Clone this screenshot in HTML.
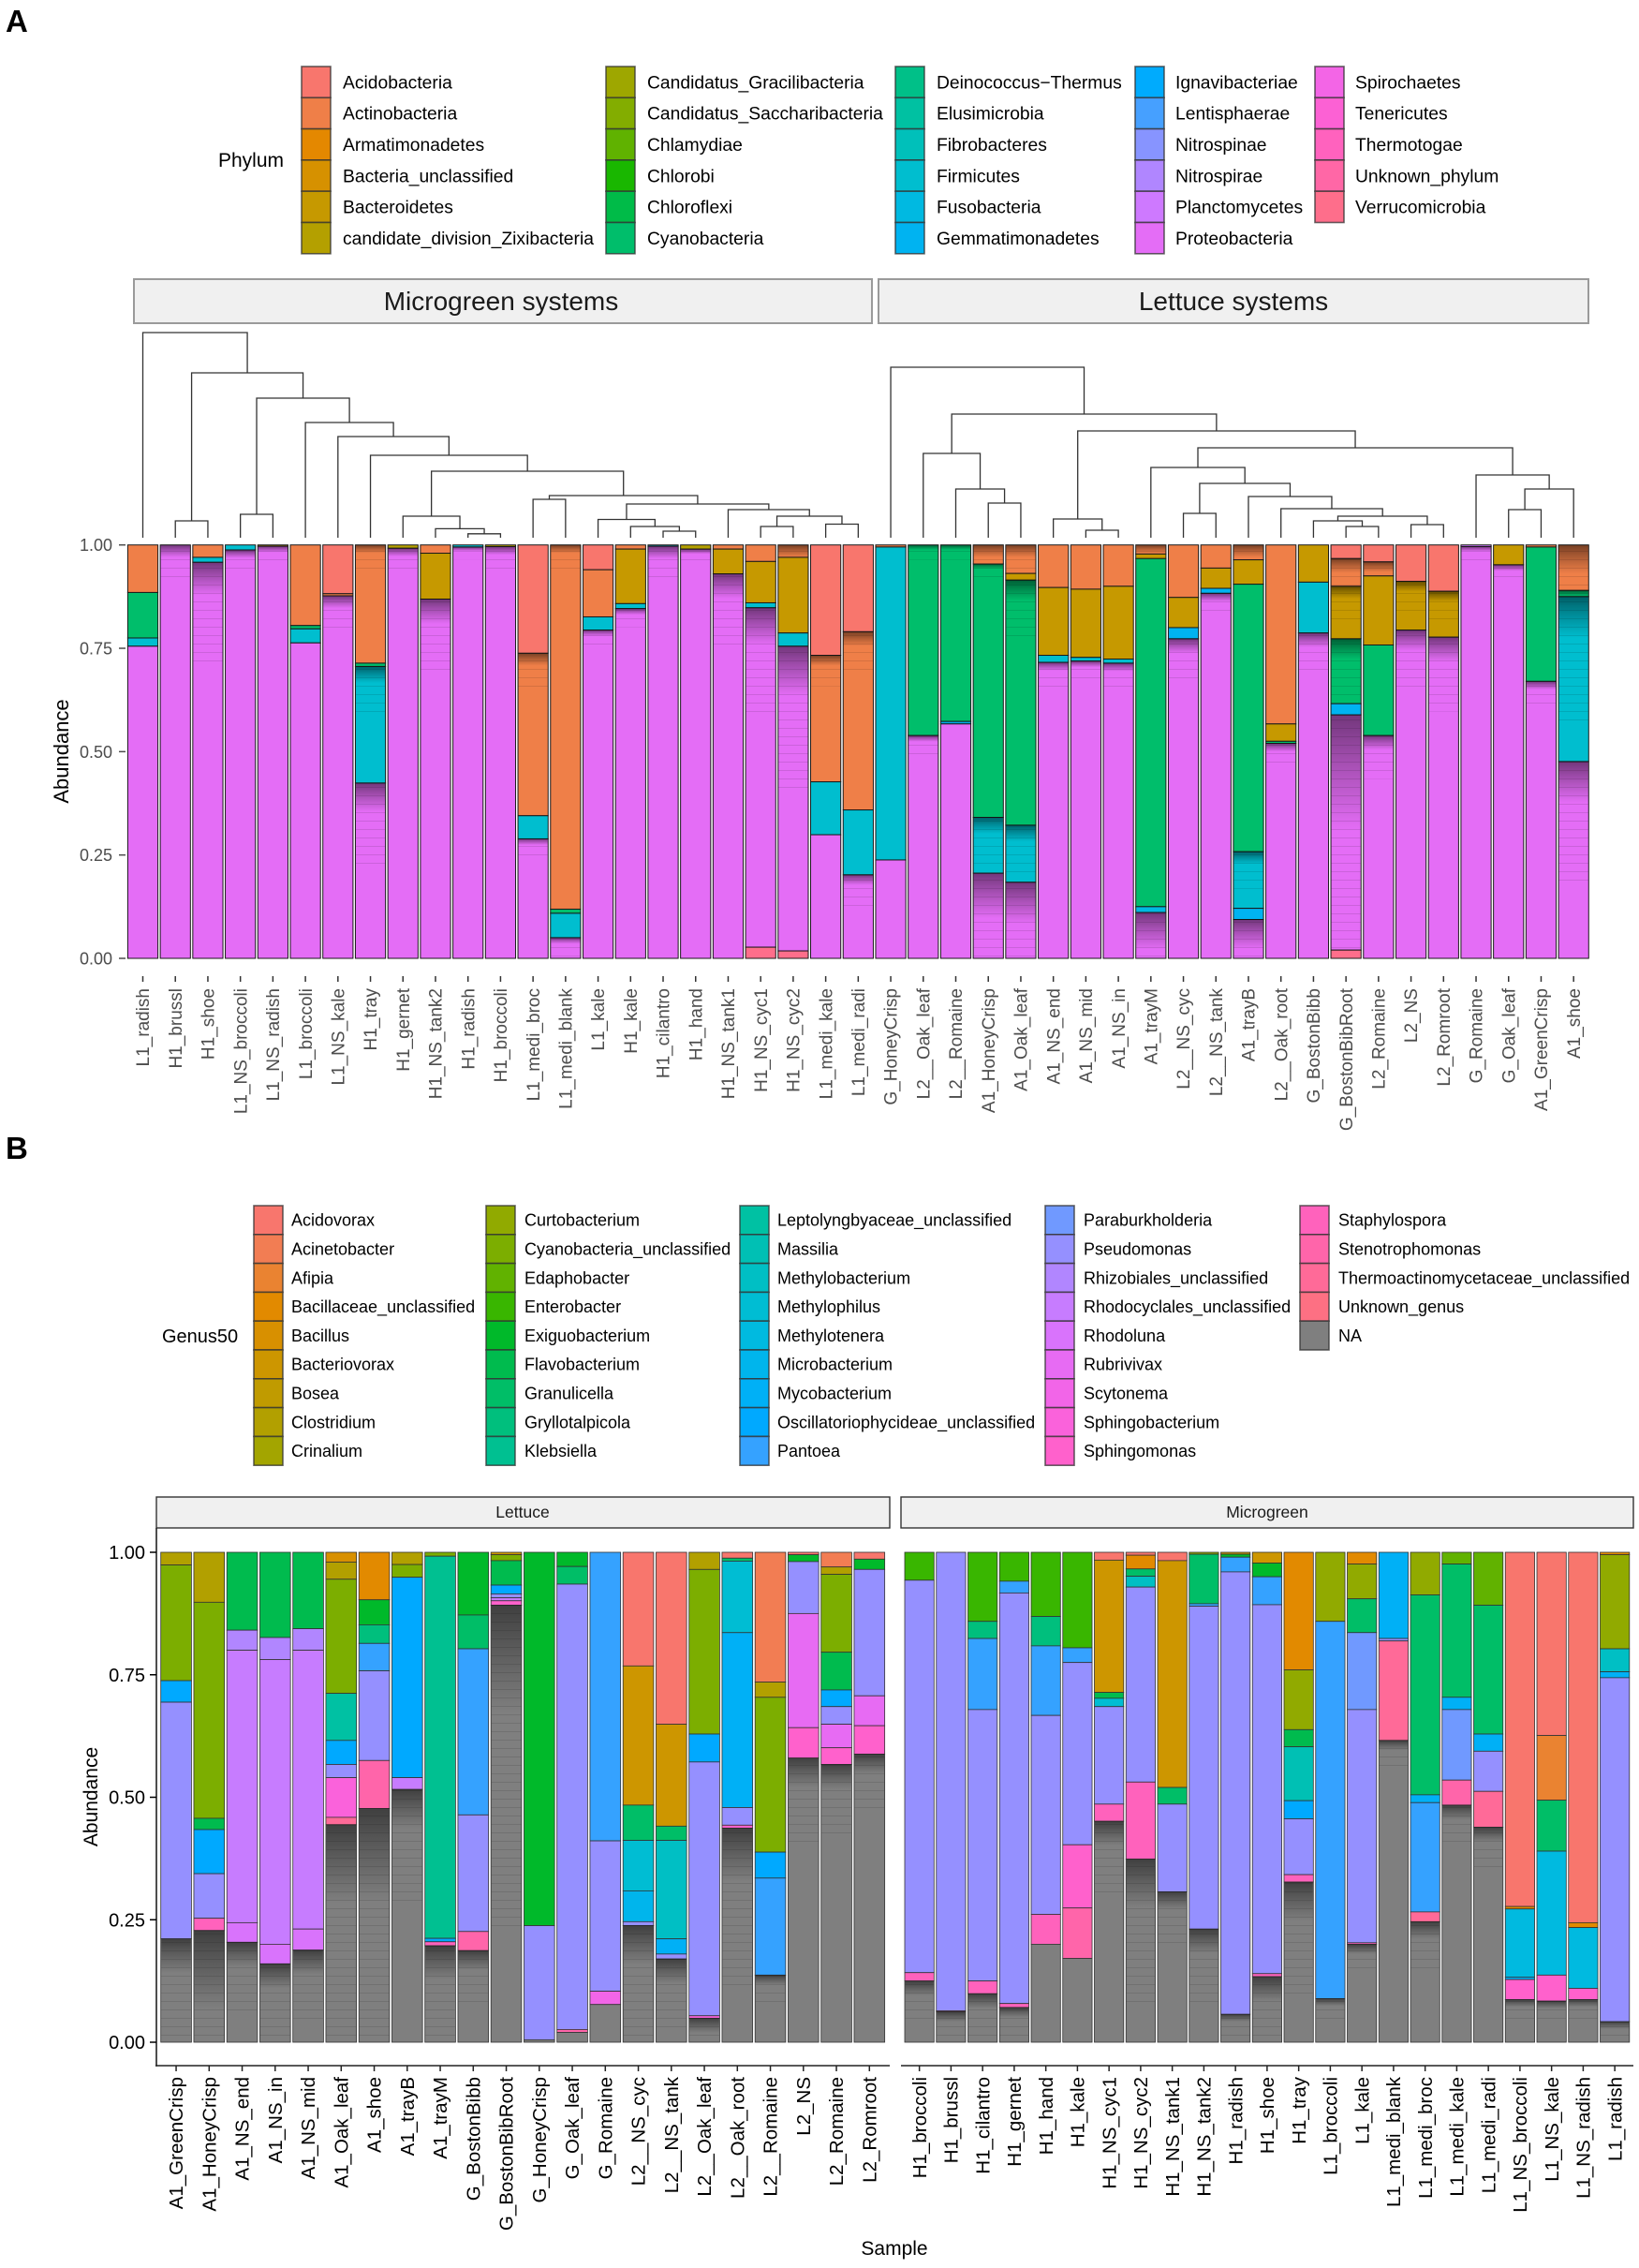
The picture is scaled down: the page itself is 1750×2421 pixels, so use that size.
<!DOCTYPE html>
<html lang="en">
<head>
<meta charset="utf-8">
<title>Taxonomic composition of microgreen and lettuce systems</title>
<style>
html,body{margin:0;padding:0;background:#fff;}
svg{display:block;font-family:"Liberation Sans",Arial,sans-serif;}
</style>
</head>
<body>
<svg id="figure" xmlns="http://www.w3.org/2000/svg" width="1750" height="2421" viewBox="0 0 1750 2421">
<defs>
<linearGradient id="otu-fade" x1="0" y1="0" x2="0" y2="1">
<stop offset="0" stop-color="#000" stop-opacity="0.5"/>
<stop offset="0.45" stop-color="#000" stop-opacity="0.26"/>
<stop offset="1" stop-color="#000" stop-opacity="0"/>
</linearGradient>
<pattern id="otu-lines" width="6" height="9" patternUnits="userSpaceOnUse">
<rect x="0" y="3" width="6" height="1" fill="#000" fill-opacity="0.11"/>
</pattern>
</defs>
<rect x="0" y="0" width="1750" height="2421" fill="#fff"/>
<text x="6" y="34" font-size="33" font-weight="bold" fill="#000">A</text>
<text x="6" y="1237" font-size="33" font-weight="bold" fill="#000">B</text>
<text x="233" y="178" font-size="21" fill="#000">Phylum</text>
<text x="173" y="1433" font-size="20" fill="#000">Genus50</text>
<g>
<rect x="143" y="298" width="788" height="47" fill="#f0f0f0" stroke="#9a9a9a" stroke-width="2"/>
<text x="535" y="331" font-size="28" text-anchor="middle" fill="#1a1a1a">Microgreen systems</text>
</g>
<g>
<rect x="938" y="298" width="758" height="47" fill="#f0f0f0" stroke="#9a9a9a" stroke-width="2"/>
<text x="1317" y="331" font-size="28" text-anchor="middle" fill="#1a1a1a">Lettuce systems</text>
</g>
<g>
<rect x="167" y="1598" width="783" height="33" fill="#f0f0f0" stroke="#333" stroke-width="1.4"/>
<text x="558" y="1620" font-size="17.5" text-anchor="middle" fill="#1a1a1a">Lettuce</text>
</g>
<g>
<rect x="962" y="1598" width="782" height="33" fill="#f0f0f0" stroke="#333" stroke-width="1.4"/>
<text x="1353" y="1620" font-size="17.5" text-anchor="middle" fill="#1a1a1a">Microgreen</text>
</g>
<text transform="translate(73 802) rotate(-90)" font-size="22" text-anchor="middle" fill="#000">Abundance</text>
<text transform="translate(104 1918) rotate(-90)" font-size="21" text-anchor="middle" fill="#000">Abundance</text>
<text x="955" y="2407" font-size="21" text-anchor="middle" fill="#000">Sample</text>
<g id="layer-legends"></g>
<g id="layer-dendrogram"></g>
<g id="layer-panel-a"></g>
<g id="layer-panel-b"></g>
</svg>
<script>
const phylumNames = ["Acidobacteria","Actinobacteria","Armatimonadetes","Bacteria_unclassified","Bacteroidetes","candidate_division_Zixibacteria","Candidatus_Gracilibacteria","Candidatus_Saccharibacteria","Chlamydiae","Chlorobi","Chloroflexi","Cyanobacteria","Deinococcus\u2212Thermus","Elusimicrobia","Fibrobacteres","Firmicutes","Fusobacteria","Gemmatimonadetes","Ignavibacteriae","Lentisphaerae","Nitrospinae","Nitrospirae","Planctomycetes","Proteobacteria","Spirochaetes","Tenericutes","Thermotogae","Unknown_phylum","Verrucomicrobia"];
const genusNames = ["Acidovorax","Acinetobacter","Afipia","Bacillaceae_unclassified","Bacillus","Bacteriovorax","Bosea","Clostridium","Crinalium","Curtobacterium","Cyanobacteria_unclassified","Edaphobacter","Enterobacter","Exiguobacterium","Flavobacterium","Granulicella","Gryllotalpicola","Klebsiella","Leptolyngbyaceae_unclassified","Massilia","Methylobacterium","Methylophilus","Methylotenera","Microbacterium","Mycobacterium","Oscillatoriophycideae_unclassified","Pantoea","Paraburkholderia","Pseudomonas","Rhizobiales_unclassified","Rhodocyclales_unclassified","Rhodoluna","Rubrivivax","Scytonema","Sphingobacterium","Sphingomonas","Staphylospora","Stenotrophomonas","Thermoactinomycetaceae_unclassified","Unknown_genus","NA"];
const abundanceTicks = ["0.00","0.25","0.50","0.75","1.00"];

const panelASamples = ["L1_radish","H1_brussl","H1_shoe","L1_NS_broccoli","L1_NS_radish","L1_broccoli","L1_NS_kale","H1_tray","H1_gernet","H1_NS_tank2","H1_radish","H1_broccoli","L1_medi_broc","L1_medi_blank","L1_kale","H1_kale","H1_cilantro","H1_hand","H1_NS_tank1","H1_NS_cyc1","H1_NS_cyc2","L1_medi_kale","L1_medi_radi","G_HoneyCrisp","L2__Oak_leaf","L2__Romaine","A1_HoneyCrisp","A1_Oak_leaf","A1_NS_end","A1_NS_mid","A1_NS_in","A1_trayM","L2__NS_cyc","L2__NS_tank","A1_trayB","L2__Oak_root","G_BostonBibb","G_BostonBibRoot","L2_Romaine","L2_NS","L2_Romroot","G_Romaine","G_Oak_leaf","A1_GreenCrisp","A1_shoe"];
const panelATaxa = [[1,11,15,23],[23],[1,15,23],[15,23],[4,23],[1,11,15,23],[0,1,23],[1,11,15,23],[5,23],[1,4,23],[15,23],[5,23],[0,1,15,23],[1,11,15,23],[0,1,15,23],[1,4,15,23],[15,23],[5,23],[1,4,23],[1,4,15,23,28],[1,4,15,23,28],[0,1,15,23],[0,1,15,23],[1,15,23],[11,23],[11,17,23],[1,11,15,23],[1,4,11,15,23],[1,4,15,23],[1,4,15,23],[1,4,15,23],[1,4,11,16,23],[1,4,17,23],[1,4,17,23],[1,4,11,15,17,23],[1,4,11,23],[4,15,23],[0,1,4,11,17,23,28],[0,1,4,11,23],[0,4,23],[0,4,23],[22,23],[4,23],[1,11,23],[1,11,15,23]];
const panelAValues = [[.115,.11,.02,.755],[1],[.03,.012,.958],[.012,.988],[.003,.997],[.195,.008,.034,.763],[.118,.005,.877],[.286,.008,.282,.424],[.008,.992],[.02,.111,.869],[.005,.995],[.004,.996],[.262,.393,.056,.289],[.881,.01,.059,.05],[.06,.114,.032,.794],[.01,.132,.012,.846],[.003,.997],[.01,.99],[.01,.06,.93],[.04,.1,.012,.821,.027],[.03,.183,.032,.737,.018],[.267,.306,.128,.299],[.21,.431,.157,.202],[.005,.757,.238],[.461,.539],[.427,.006,.567],[.046,.613,.135,.206],[.069,.016,.593,.138,.184],[.103,.164,.017,.716],[.107,.165,.009,.719],[.1,.176,.01,.714],[.022,.011,.842,.014,.111],[.127,.073,.027,.773],[.056,.049,.012,.883],[.036,.059,.647,.137,.027,.094],[.433,.042,.005,.52],[.09,.123,.787],[.033,.067,.127,.157,.027,.569,.02],[.041,.034,.167,.219,.539],[.088,.118,.794],[.112,.111,.777],[.004,.996],[.048,.952],[.005,.325,.67],[.11,.015,.399,.476]];
const panelADenseOtuBands = [[1,23,.03],[2,23,.08],[3,23,.02],[4,23,.015],[6,23,.03],[7,1,.02],[7,15,.04],[7,23,.07],[8,23,.02],[9,23,.06],[10,23,.01],[11,23,.02],[12,1,.03],[12,23,.015],[13,1,.02],[13,23,.015],[14,23,.015],[15,23,.015],[16,23,.03],[17,23,.012],[18,23,.06],[19,23,.09],[20,1,.03],[20,23,.12],[21,1,.025],[22,1,.035],[22,23,.025],[24,11,.012],[24,23,.015],[25,11,.012],[26,1,.03],[26,11,.012],[26,15,.04],[26,23,.11],[27,1,.03],[27,11,.05],[27,15,.04],[27,23,.1],[28,23,.02],[29,23,.015],[30,23,.02],[31,1,.02],[31,23,.09],[32,23,.035],[33,23,.02],[34,1,.03],[34,15,.03],[34,23,.07],[35,23,.02],[36,23,.035],[37,1,.035],[37,4,.03],[37,11,.05],[37,23,.28],[38,1,.025],[38,23,.035],[39,4,.025],[39,23,.05],[40,4,.025],[40,23,.06],[41,23,.012],[42,23,.015],[43,23,.02],[44,1,.07],[44,11,.02],[44,15,.1],[44,23,.1]];

const panelBLettuceSamples = ["A1_GreenCrisp","A1_HoneyCrisp","A1_NS_end","A1_NS_in","A1_NS_mid","A1_Oak_leaf","A1_shoe","A1_trayB","A1_trayM","G_BostonBibb","G_BostonBibRoot","G_HoneyCrisp","G_Oak_leaf","G_Romaine","L2__NS_cyc","L2__NS_tank","L2__Oak_leaf","L2__Oak_root","L2__Romaine","L2_NS","L2_Romaine","L2_Romroot"];
const panelBLettuceTaxa = [[7,10,25,28,40],[7,10,14,25,28,36,40],[14,29,30,31,40],[14,29,30,31,40],[14,29,30,31,40],[4,7,10,18,25,28,34,38,40],[3,13,16,26,28,37,40],[7,10,25,30,40],[10,17,25,36,40],[13,15,26,28,37,40],[5,10,14,25,28,30,35,40],[13,28,40],[13,15,28,37,40],[26,28,33,40],[0,5,15,21,23,28,40],[0,5,15,20,24,28,40],[7,10,25,28,34,40],[0,15,21,24,28,35,40],[1,7,10,25,26,40],[0,13,28,32,35,40],[1,7,10,14,25,28,32,35,40],[0,13,28,32,35,40]];
const panelBLettuceValues = [[.026,.236,.044,.483,.211],[.102,.441,.023,.09,.091,.025,.228],[.159,.041,.556,.04,.204],[.174,.045,.581,.04,.16],[.156,.044,.569,.043,.188],[.02,.035,.233,.096,.049,.027,.081,.015,.444],[.097,.051,.038,.056,.183,.098,.477],[.025,.026,.409,.024,.516],[.008,.78,.007,.008,.197],[.128,.069,.339,.238,.039,.187],[.005,.012,.05,.018,.008,.006,.009,.892],[.762,.233,.005],[.029,.036,.909,.006,.02],[.589,.307,.027,.077],[.232,.284,.072,.103,.063,.008,.238],[.351,.208,.029,.201,.031,.01,.17],[.035,.336,.057,.518,.005,.049],[.012,.006,.146,.357,.036,.006,.437],[.265,.031,.316,.053,.198,.137],[.005,.014,.106,.233,.062,.58],[.03,.015,.159,.077,.034,.036,.048,.034,.567],[.014,.021,.258,.061,.058,.588]];
const panelBLettuceDenseOtuBands = [[0,40,.07],[1,40,.16],[2,40,.05],[3,40,.05],[4,40,.05],[5,40,.16],[6,40,.19],[7,40,.08],[8,40,.07],[9,40,.04],[10,40,.22],[14,40,.08],[15,40,.05],[16,40,.03],[17,40,.11],[18,40,.02],[19,40,.06],[20,40,.05],[21,40,.04]];

const panelBMicrogreenSamples = ["H1_broccoli","H1_brussl","H1_cilantro","H1_gernet","H1_hand","H1_kale","H1_NS_cyc1","H1_NS_cyc2","H1_NS_tank1","H1_NS_tank2","H1_radish","H1_shoe","H1_tray","L1_broccoli","L1_kale","L1_medi_blank","L1_medi_broc","L1_medi_kale","L1_medi_radi","L1_NS_broccoli","L1_NS_kale","L1_NS_radish","L1_radish"];
const panelBMicrogreenTaxa = [[12,28,36,40],[28,36,40],[12,16,26,28,36,40],[12,26,28,36,40],[12,16,26,28,36,40],[12,26,28,35,37,40],[0,5,14,21,28,36,40],[0,3,15,20,28,36,40],[0,5,15,28,40],[9,15,26,28,40],[5,13,26,28,40],[5,13,26,28,36,40],[3,9,14,19,25,28,36,40],[9,26,40],[3,9,15,27,28,36,40],[24,28,38,40],[9,15,24,26,38,40],[11,15,24,27,37,40],[11,15,24,28,38,40],[0,3,22,24,35,40],[0,2,15,22,35,40],[0,3,22,35,40],[3,9,20,24,28,40]];
const panelBMicrogreenValues = [[.057,.801,.017,.125],[.936,.002,.062],[.141,.035,.145,.554,.026,.099],[.059,.024,.838,.008,.071],[.131,.06,.142,.406,.061,.2],[.195,.03,.372,.129,.103,.171],[.016,.27,.012,.017,.199,.035,.451],[.006,.028,.015,.022,.398,.157,.374],[.017,.463,.034,.179,.307],[.004,.101,.005,.659,.231],[.004,.006,.03,.903,.057],[.022,.028,.057,.753,.006,.134],[.24,.122,.035,.11,.037,.114,.015,.327],[.141,.77,.089],[.024,.071,.069,.157,.476,.003,.2],[.176,.005,.203,.616],[.087,.408,.016,.223,.02,.246],[.024,.272,.025,.144,.051,.484],[.108,.263,.035,.082,.073,.439],[.723,.005,.139,.005,.041,.087],[.374,.132,.104,.253,.053,.084],[.756,.01,.124,.023,.087],[.005,.192,.047,.012,.702,.042]];
const panelBMicrogreenDenseOtuBands = [[0,40,.03],[1,40,.02],[2,40,.03],[3,40,.02],[6,40,.05],[7,40,.1],[8,40,.035],[9,40,.05],[10,40,.015],[11,40,.05],[12,40,.08],[13,40,.015],[14,40,.02],[15,40,.02],[16,40,.035],[17,40,.03],[18,40,.03],[19,40,.015],[20,40,.015],[21,40,.015],[22,40,.015]];

const dendroMicrogreen = [219,0,[176,[18,1,2],[149,[25,3,4],[123,5,[108,6,[88,7,[71,[23,8,[9.6,9,[4.2,10,11]]],[45,[41,12,13],[36,[19.5,14,[12,15,[7,16,17]]],[30,18,[23,[12,19,20],[14.5,21,22]]]]]]]]]]]];
const dendroLettuce = [182,23,[132,[90,24,[52,25,[37,26,27]]],[114,[20,28,[8,29,30]],[96,[75,31,[58,[26,32,33],[44,34,[31,35,[23,[18,36,[12,37,38]],[14,39,40]]]]]],[67,41,[52,[30,42,43],44]]]]]];

const SVG_NS = "http://www.w3.org/2000/svg";
function hclColor(h, c, l) {
  const rad = h * Math.PI / 180;
  const U = c * Math.cos(rad), V = c * Math.sin(rad);
  const Y = Math.pow((l + 16) / 116, 3);
  const un = 0.19783, vn = 0.46832;
  const u = U / (13 * l) + un, v = V / (13 * l) + vn;
  const X = 9 * Y * u / (4 * v);
  const Z = -X / 3 - 5 * Y + 3 * Y / v;
  const lin = [3.240479 * X - 1.53715 * Y - 0.498535 * Z, -0.969256 * X + 1.875992 * Y + 0.041556 * Z, 0.055648 * X - 0.204043 * Y + 1.057311 * Z];
  const ch = lin.map(function (val) {
    const g = val > 0.00304 ? 1.055 * Math.pow(val, 1 / 2.4) - 0.055 : 12.92 * val;
    return Math.round(Math.max(0, Math.min(1, g)) * 255);
  });
  return "rgb(" + ch.join(",") + ")";
}
function huePalette(n) {
  const out = [];
  for (let i = 0; i < n; i++) out.push(hclColor(15 + 360 * i / n, 100, 65));
  return out;
}
const phylumColors = huePalette(phylumNames.length);
const genusColors = huePalette(genusNames.length - 1).concat(["#7f7f7f"]);

function node(parent, tag, attrs) {
  const el = document.createElementNS(SVG_NS, tag);
  for (const k in attrs) el.setAttribute(k, attrs[k]);
  parent.appendChild(el);
  return el;
}

function drawLegend(parent, names, colors, columns, perCol, top, rowH, size) {
  names.forEach(function (name, i) {
    const col = columns[Math.floor(i / perCol)];
    const row = i % perCol;
    const g = node(parent, "g", {});
    
    
    const key = node(g, "rect", {x: col[0], y: top + row * rowH, width: 31, height: rowH, fill: colors[i], stroke: "#333", "stroke-opacity": 0.75, "stroke-width": 1.6});
    
    
    const t = node(g, "text", {x: col[1], y: top + (row + 0.5) * rowH + size * 0.35, "font-size": size, fill: "#000"});
    
    
    t.textContent = name;
  });
}

function drawBars(parent, cfg) {
  const yScale = function (v) { return cfg.y0 + (cfg.y1 - cfg.y0) * v; };
  const xScale = function (i) { return cfg.x0 + i * cfg.pitch; };
  cfg.samples.forEach(function (sample, i) {
    const g = node(parent, "g", {});
    
    
    let cum = 1;
    cfg.taxa[i].forEach(function (taxon, j) {
      const v = cfg.values[i][j];
      const top = yScale(cum), bottom = yScale(cum - v);
      const seg = node(g, "rect", {x: xScale(i), y: top, width: cfg.barW, height: Math.max(bottom - top, 0), fill: cfg.colors[taxon], stroke: cfg.edge, "stroke-width": cfg.edgeW});
      
      
      const title = node(seg, "title", {});
      title.textContent = sample + " " + cfg.names[taxon] + " " + v;
      cfg.bands.forEach(function (b) {
        if (b[0] !== i || b[1] !== taxon) return;
        const depth = Math.min(b[2], v);
        const bandH = yScale(cum - depth) - top;
        const shade = node(g, "rect", {x: xScale(i) + 0.5, y: top, width: cfg.barW - 1, height: bandH, fill: "url(#otu-fade)"});
        
        
        const linesH = Math.min(yScale(cum - Math.min(depth * 3, v)) - top, bottom - top);
        const lines = node(g, "rect", {x: xScale(i) + 0.5, y: top, width: cfg.barW - 1, height: linesH, fill: "url(#otu-lines)"});
        
        
      });
      cum -= v;
    });
    const cx = xScale(i) + cfg.barW / 2;
    const tick = node(parent, "line", {x1: cx, x2: cx, y1: cfg.tickTop, y2: cfg.tickBottom, stroke: cfg.tickColor, "stroke-width": 1.5});
    
    
    const lab = node(parent, "text", {transform: "translate(" + (cx + cfg.labelSize * 0.35) + " " + cfg.labelTop + ") rotate(-90)", "text-anchor": "end", "font-size": cfg.labelSize, fill: cfg.labelColor});
    
    
    lab.textContent = sample;
  });
}

function drawYAxis(parent, y0, y1, tickX0, tickX1, labelX, size, color) {
  abundanceTicks.forEach(function (label) {
    const y = y0 + (y1 - y0) * parseFloat(label);
    const tick = node(parent, "line", {x1: tickX0, x2: tickX1, y1: y, y2: y, stroke: color, "stroke-width": 1.5});
    
    
    const t = node(parent, "text", {x: labelX, y: y + size * 0.36, "text-anchor": "end", "font-size": size, fill: color});
    
    
    t.textContent = label;
  });
}

function drawDendro(parent, tree, leafX, baseY) {
  function walk(n) {
    if (!Array.isArray(n)) return {x: leafX(n), y: baseY};
    const a = walk(n[1]), b = walk(n[2]);
    const y = baseY - n[0];
    const p = node(parent, "path", {d: "M" + a.x + " " + a.y + "V" + y + "H" + b.x + "V" + b.y, fill: "none", stroke: "#333", "stroke-width": 1.3});
    
    
    return {x: (a.x + b.x) / 2, y: y};
  }
  walk(tree);
}

(function render() {
  const legends = document.getElementById("layer-legends");
  drawLegend(legends, phylumNames, phylumColors, [[322, 366], [647, 691], [956, 1000], [1212, 1255], [1404, 1447]], 6, 71, 33.3, 19.3);
  drawLegend(legends, genusNames, genusColors, [[271, 311], [519, 560], [790, 830], [1116, 1157], [1388, 1429]], 9, 1287, 30.8, 18);

  const aX0 = 136.4, aPitch = 34.72, aW = 32.2;
  const leafX = function (i) { return aX0 + i * aPitch + aW / 2; };
  const dendro = document.getElementById("layer-dendrogram");
  drawDendro(dendro, dendroMicrogreen, leafX, 574);
  drawDendro(dendro, dendroLettuce, leafX, 574);

  const a = document.getElementById("layer-panel-a");
  drawBars(a, {samples: panelASamples, taxa: panelATaxa, values: panelAValues, bands: panelADenseOtuBands, colors: phylumColors, names: phylumNames, x0: aX0, pitch: aPitch, barW: aW, y0: 1023, y1: 581.7, edge: "#1a1a1a", edgeW: 1, tickTop: 1042, tickBottom: 1048, tickColor: "#333", labelTop: 1055, labelSize: 19, labelColor: "#4d4d4d"});
  drawYAxis(a, 1023, 581.7, 127, 134, 120, 18, "#4d4d4d");

  const b = document.getElementById("layer-panel-b");
  const axisLeft = node(b, "line", {x1: 167, x2: 167, y1: 1631, y2: 2205.7, stroke: "#222", "stroke-width": 1.6});
  
  
  const axisLet = node(b, "line", {x1: 166, x2: 950, y1: 2205, y2: 2205, stroke: "#222", "stroke-width": 1.6});
  
  
  const axisMic = node(b, "line", {x1: 962, x2: 1744, y1: 2205, y2: 2205, stroke: "#222", "stroke-width": 1.6});
  
  
  drawBars(b, {samples: panelBLettuceSamples, taxa: panelBLettuceTaxa, values: panelBLettuceValues, bands: panelBLettuceDenseOtuBands, colors: genusColors, names: genusNames, x0: 171.7, pitch: 35.25, barW: 32.7, y0: 2180, y1: 1657, edge: "#333", edgeW: 0.8, tickTop: 2205, tickBottom: 2211, tickColor: "#222", labelTop: 2217, labelSize: 20.5, labelColor: "#000"});
  drawBars(b, {samples: panelBMicrogreenSamples, taxa: panelBMicrogreenTaxa, values: panelBMicrogreenValues, bands: panelBMicrogreenDenseOtuBands, colors: genusColors, names: genusNames, x0: 966, pitch: 33.75, barW: 31.3, y0: 2180, y1: 1657, edge: "#333", edgeW: 0.8, tickTop: 2205, tickBottom: 2211, tickColor: "#222", labelTop: 2217, labelSize: 20.5, labelColor: "#000"});
  drawYAxis(b, 2180, 1657, 160, 167, 155, 20, "#000");
})();
</script>
</body>
</html>
